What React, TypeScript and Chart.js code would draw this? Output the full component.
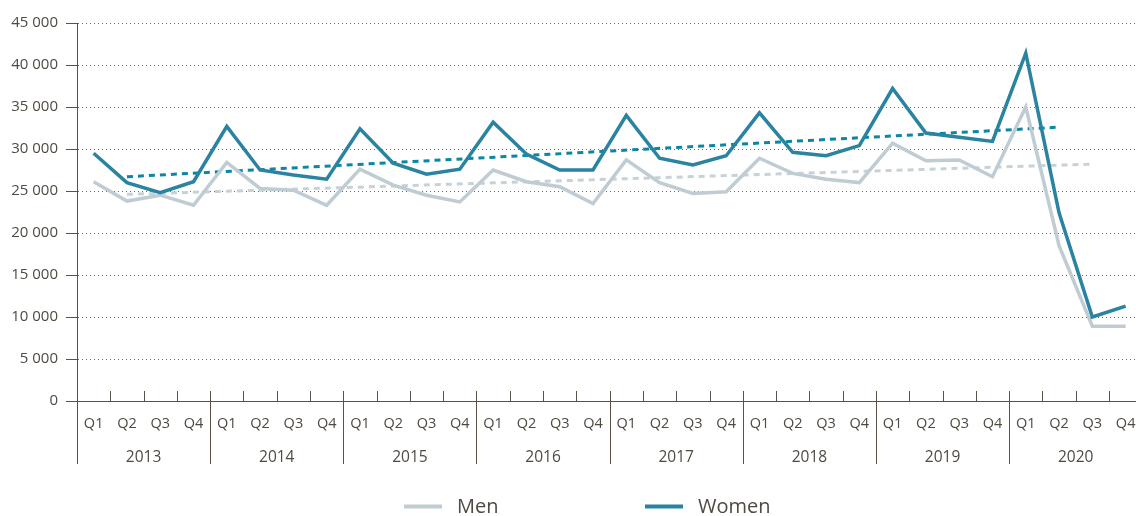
import React, { useEffect, useRef } from 'react';
import { Chart, registerables } from 'chart.js';

Chart.register(...registerables);

const YEARS = ['2013', '2014', '2015', '2016', '2017', '2018', '2019', '2020'];
const QUARTERS = ['Q1', 'Q2', 'Q3', 'Q4'];

const MEN = [
  26100, 23800, 24500, 23300,
  28400, 25300, 25100, 23300,
  27600, 25700, 24500, 23700,
  27500, 26100, 25500, 23500,
  28700, 26000, 24700, 24900,
  28900, 27100, 26400, 26000,
  30700, 28600, 28700, 26700,
  35000, 18500, 8900, 8900,
];

const WOMEN = [
  29500, 26000, 24800, 26100,
  32700, 27500, 26900, 26400,
  32400, 28300, 27000, 27600,
  33200, 29400, 27500, 27500,
  34000, 28900, 28100, 29200,
  34300, 29600, 29200, 30400,
  37200, 31900, 31400, 30900,
  41400, 22400, 10000, 11300,
];

// Trend lines: start / end periods and values
const MEN_TREND_AT = ['2013 Q2', '2020 Q3'];
const MEN_TREND = [24600, 28200];
const WOMEN_TREND_AT = ['2013 Q2', '2020 Q2'];
const WOMEN_TREND = [26700, 32600];

const Y_TICKS = [0, 5000, 10000, 15000, 20000, 25000, 30000, 35000, 40000, 45000];

const MEN_COLOR = '#c0ccd3';
const WOMEN_COLOR = '#2a83a0';
const MEN_TREND_COLOR = '#c7d2d8';
const WOMEN_TREND_COLOR = '#0b86a4';
const AXIS_COLOR = '#5b5246';
const TEXT_COLOR = '#4f4a42';
const GRID_COLOR = '#6a6a6a';
const FONT = "'Open Sans', sans-serif";

const fmt = (v: number) => String(v).replace(/\B(?=(\d{3})+(?!\d))/g, ' ');

const axisDecor = {
  id: 'axisDecor',
  afterDraw(chart: any) {
    const { ctx, chartArea, scales } = chart;
    const x = scales.x;
    const n = chart.data.labels.length;
    ctx.save();
    ctx.strokeStyle = AXIS_COLOR;
    ctx.lineWidth = 1;
    for (let k = 0; k <= n; k++) {
      const px = Math.round(x.getPixelForValue(k - 0.5)) + 0.5;
      const isYear = k % QUARTERS.length === 0;
      ctx.beginPath();
      ctx.moveTo(px, chartArea.bottom - 10);
      ctx.lineTo(px, isYear ? chartArea.bottom + 63 : chartArea.bottom);
      ctx.stroke();
    }
    ctx.restore();
  },
};

const LEGEND_X = [404, 645];
const LEGEND_LINE_Y = 506.5;
const LEGEND_TEXT_Y = 513;

const customLegend = {
  id: 'customLegend',
  afterDraw(chart: any) {
    const { ctx } = chart;
    const items = chart.data.datasets.filter((d: any) => d.showInLegend);
    ctx.save();
    items.forEach((d: any, i: number) => {
      const lx = LEGEND_X[i];
      ctx.strokeStyle = d.borderColor;
      ctx.lineWidth = 4;
      ctx.beginPath();
      ctx.moveTo(lx, LEGEND_LINE_Y);
      ctx.lineTo(lx + 38, LEGEND_LINE_Y);
      ctx.stroke();
      ctx.fillStyle = TEXT_COLOR;
      ctx.font = `20px ${FONT}`;
      ctx.textBaseline = 'alphabetic';
      ctx.textAlign = 'left';
      ctx.fillText(d.label, lx + 53, LEGEND_TEXT_Y);
    });
    ctx.restore();
  },
};

export default function App() {
  const ref = useRef<HTMLCanvasElement>(null);

  useEffect(() => {
    if (!ref.current) return;
    const labels = YEARS.flatMap((y) => QUARTERS.map((q) => `${y} ${q}`));
    const chart = new Chart(ref.current, {
      type: 'line',
      data: {
        labels,
        datasets: [
          {
            label: 'Men',
            data: MEN,
            borderColor: MEN_COLOR,
            borderWidth: 3.5,
            pointRadius: 0,
            tension: 0,
            showInLegend: true,
            order: 1,
          } as any,
          {
            label: 'Women',
            data: WOMEN,
            borderColor: WOMEN_COLOR,
            borderWidth: 3.5,
            pointRadius: 0,
            tension: 0,
            showInLegend: true,
            order: 0,
          } as any,
          {
            label: 'Women trend',
            data: WOMEN_TREND_AT.map((x, i) => ({ x, y: WOMEN_TREND[i] })),
            borderColor: WOMEN_TREND_COLOR,
            borderWidth: 3,
            borderDash: [6, 5],
            pointRadius: 0,
            spanGaps: true,
            order: 2,
          } as any,
          {
            label: 'Men trend',
            data: MEN_TREND_AT.map((x, i) => ({ x, y: MEN_TREND[i] })),
            borderColor: MEN_TREND_COLOR,
            borderWidth: 3,
            borderDash: [6, 5],
            pointRadius: 0,
            spanGaps: true,
            order: 3,
          } as any,
        ],
      },
      options: {
        animation: false,
        responsive: false,
        devicePixelRatio: 1,
        layout: { padding: { top: 23, right: 5, bottom: 35, left: 0 } },
        plugins: {
          legend: { display: false },
          tooltip: { enabled: false },
        },
        scales: {
          x: {
            type: 'category',
            offset: true,
            weight: 0,
            grid: { display: false, drawTicks: false },
            border: { display: true, color: AXIS_COLOR, width: 1 },
            ticks: {
              color: TEXT_COLOR,
              font: { family: FONT, size: 14.5 },
              padding: 14.5,
              maxRotation: 0,
              autoSkip: false,
              callback: (_v: any, i: number) => QUARTERS[i % QUARTERS.length],
            },
            afterFit: (s: any) => { s.height = 35; },
          },
          x2: {
            type: 'category',
            axis: 'x',
            position: 'bottom',
            labels: YEARS,
            offset: true,
            weight: 1,
            grid: { display: false, drawTicks: false },
            border: { display: false },
            ticks: {
              color: TEXT_COLOR,
              font: { family: FONT, size: 15.5 },
              padding: 12,
              maxRotation: 0,
              autoSkip: false,
            },
            afterFit: (s: any) => { s.height = 45; },
          } as any,
          y: {
            min: 0,
            max: 45000,
            afterBuildTicks: (s: any) => { s.ticks = Y_TICKS.map((value) => ({ value })); },
            grid: {
              color: (c: any) => (c.tick && c.tick.value === 0 ? 'rgba(0,0,0,0)' : GRID_COLOR),
              lineWidth: 1,
              tickLength: 11,
              tickColor: AXIS_COLOR,
              tickWidth: 1,
              tickBorderDash: [],
            },
            border: { display: true, color: AXIS_COLOR, width: 1, dash: [1, 3] },
            ticks: {
              color: TEXT_COLOR,
              font: { family: FONT, size: 15 },
              padding: 8,
              callback: (v: any) => fmt(Number(v)),
            },
            afterFit: (s: any) => { s.width = 77; },
          },
        },
      } as any,
      plugins: [axisDecor, customLegend],
    });
    return () => chart.destroy();
  }, []);

  return (
    <div
      style={{
        position: 'fixed',
        left: 0,
        top: 0,
        width: 1136,
        height: 516,
        overflow: 'hidden',
        background: '#ffffff',
      }}
    >
      <canvas ref={ref} width={1150} height={516} style={{ display: 'block' }} />
    </div>
  );
}
